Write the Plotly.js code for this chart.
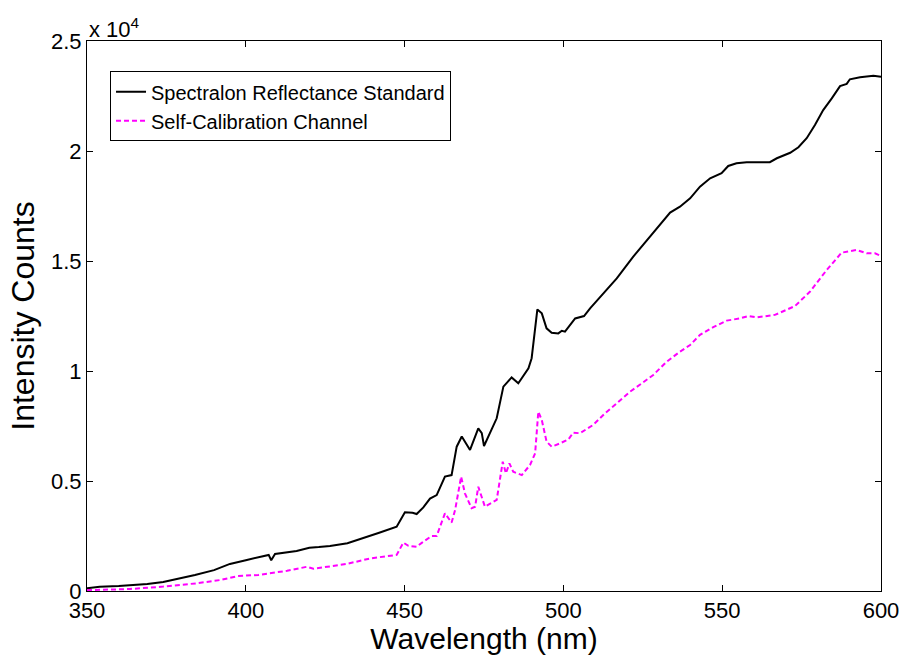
<!DOCTYPE html>
<html>
<head>
<meta charset="utf-8">
<script src="https://cdn.plot.ly/plotly-3.0.1.min.js"></script>
<style>html,body{margin:0;padding:0;background:#fff;}#chart{width:903px;height:655px;}</style>
</head>
<body>
<div id="chart"></div>
<script>
// Spectralon Reflectance Standard (wavelength nm, intensity counts)
const spectralonWavelength = [350,354,360,364,369,374,379,384,390,395,400,404,407.2,408.0,409.2,416,420,423,426.5,432,437,442,447.5,450.1,452.5,453.8,455.9,458,460.1,462.7,464.8,466.4,468.0,470.6,473.2,474.3,475.0,476.9,479.0,481.1,483.7,485.8,489.0,490.0,491.8,493.2,494.7,496.3,498.4,499.5,500.5,503.7,506.5,508.4,511.5,516.8,522.0,527.3,530.4,533.6,536.7,539.9,543.0,546.2,549.8,551.9,554.5,557.7,560.8,565.0,567.2,571.4,574.0,576.6,579.2,581.8,584.5,587.1,589.2,590.2,593.4,597.6,600];
const spectralonCounts = [130,190,230,260,320,410,560,730,950,1230,1400,1530,1640,1400,1680,1820,1970,2000,2050,2170,2400,2650,2920,3580,3560,3500,3800,4200,4360,5200,5270,6560,7020,6410,7390,7180,6590,7180,7850,9290,9710,9440,10120,10580,12800,12620,11940,11740,11710,11830,11790,12390,12500,12850,13350,14210,15200,16110,16640,17200,17470,17850,18380,18760,18990,19320,19440,19490,19490,19490,19670,19920,20170,20580,21180,21860,22390,22950,23050,23260,23350,23420,23380];

// Self-Calibration Channel
const selfCalWavelength = [350,358,363.5,374,384.5,392,397.5,404,413,419.2,421.3,431.8,437,439.1,447.5,449.6,451.2,453.8,455.5,458.5,460.1,462.7,464.8,465.9,467.8,469.0,471.1,472.2,473.2,475.3,479.0,480.9,481.9,483.0,484.2,486.9,489.5,491.1,492.1,493.2,494.7,496.3,498.9,501.6,503.1,505.2,509.4,513.1,516.8,521.0,524.7,528.3,532.5,536.7,539.9,543.0,547.2,551.4,555.6,558.2,560.9,566.6,572.9,577.6,582.9,587.6,592.3,595.5,598.1,600];
const selfCalCounts = [40,50,90,200,350,500,680,730,920,1100,1010,1230,1410,1480,1640,2200,2050,2010,2200,2500,2500,3530,3110,3680,5200,4440,3760,3830,4740,3830,4140,5880,5350,5800,5420,5270,5730,6260,8150,7770,6790,6560,6710,6890,7200,7170,7550,8080,8530,9060,9440,9820,10420,10880,11180,11640,11990,12290,12390,12500,12440,12550,12950,13600,14590,15380,15500,15350,15350,15230];

const seriesNames = ['Spectralon Reflectance Standard', 'Self-Calibration Channel'];
const xTickVals = [350,400,450,500,550,600];
const yTickVals = [0,5000,10000,15000,20000,25000];
const yTickText = ['0','0.5','1','1.5','2','2.5'];

const FONT = 'Liberation Sans, Arial, sans-serif';

const traces = [
  {x: spectralonWavelength, y: spectralonCounts, name: seriesNames[0], type: 'scatter', mode: 'lines',
   line: {color: '#000000', width: 2}},
  {x: selfCalWavelength, y: selfCalCounts, name: seriesNames[1], type: 'scatter', mode: 'lines',
   line: {color: '#ff00ff', width: 2, dash: '5px,3px'}}
];

const axisCommon = {
  showgrid: false, zeroline: false, showline: true, linecolor: '#000', linewidth: 1,
  mirror: 'ticks', ticks: 'inside', ticklen: 6, tickcolor: '#000', tickwidth: 1,
  tickfont: {family: FONT, size: 22, color: '#000'}
};

const layout = {
  width: 903, height: 655,
  margin: {l: 87, r: 22, t: 41, b: 64},
  paper_bgcolor: '#fff', plot_bgcolor: '#fff',
  font: {family: FONT, color: '#000'},
  showlegend: true,
  legend: {x: 0.029, y: 0.945, xanchor: 'left', yanchor: 'top',
           bordercolor: '#000', borderwidth: 1, bgcolor: '#fff',
           font: {family: FONT, size: 20, color: '#000'}, tracegroupgap: 0, itemwidth: 30},
  xaxis: Object.assign({}, axisCommon, {
    range: [350, 600], tickvals: xTickVals, ticklabelstandoff: 0, automargin: false,
    title: {text: 'Wavelength (nm)', font: {family: FONT, size: 30, color: '#000'}, standoff: 2}
  }),
  yaxis: Object.assign({}, axisCommon, {
    range: [0, 25000], tickvals: yTickVals, ticktext: yTickText, automargin: false,
    title: {text: 'Intensity Counts', font: {family: FONT, size: 32, color: '#000'}, standoff: 6}
  }),
  annotations: [
    {xref: 'paper', yref: 'paper', x: 0, y: 1, xanchor: 'left', yanchor: 'bottom', yshift: -3,
     text: 'x 10<sup>4</sup>', showarrow: false, font: {family: FONT, size: 22, color: '#000'}}
  ]
};

Plotly.newPlot('chart', traces, layout, {displayModeBar: false, staticPlot: true});
</script>
</body>
</html>
